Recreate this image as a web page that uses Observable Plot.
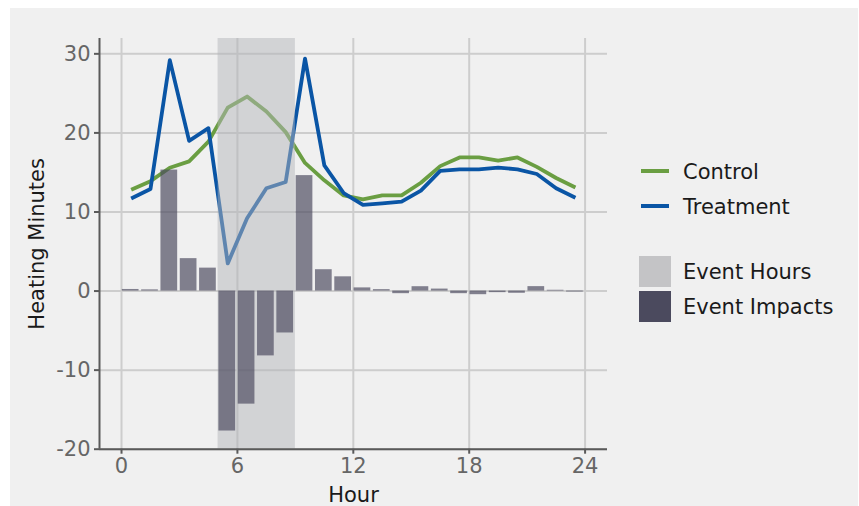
<!DOCTYPE html>
<html>
<head>
<meta charset="utf-8">
<script src="https://cdn.jsdelivr.net/npm/d3@7"></script>
<script src="https://cdn.jsdelivr.net/npm/@observablehq/plot@0.6"></script>
<style>
  html, body { margin: 0; padding: 0; background: #ffffff; }
  body { width: 859px; height: 506px; position: relative; overflow: hidden; font-family: "DejaVu Sans", sans-serif; }
  #panel { position: absolute; left: 10px; top: 8px; width: 848px; height: 498px; background: #f0f0f0; }
  #chart { position: absolute; left: 0; top: 0; }
  #chart svg { background: transparent; }
  g[aria-label="x-axis label"], g[aria-label="y-axis label"] { fill: #1a1a1a; }
  .leg { position: absolute; font-size: 21px; color: #1a1a1a; line-height: 1; white-space: nowrap; }
  .legline { position: absolute; height: 4px; width: 28px; }
  .legbox { position: absolute; width: 32px; height: 31px; }
</style>
</head>
<body>
<div id="panel"></div>
<div id="chart"></div>
<div id="legend"></div>
<script>
// ---- data ----
const hours = [0, 1, 2, 3, 4, 5, 6, 7, 8, 9, 10, 11, 12, 13, 14, 15, 16, 17, 18, 19, 20, 21, 22, 23];
const control = [12.8, 13.9, 15.6, 16.4, 18.9, 23.2, 24.6, 22.7, 20.1, 16.2, 14.0, 12.1, 11.6, 12.1, 12.1, 13.7, 15.8, 16.9, 16.9, 16.5, 16.9, 15.7, 14.3, 13.1];
const treatment = [11.7, 12.9, 29.2, 19.0, 20.6, 3.5, 9.2, 13.0, 13.8, 29.4, 15.9, 12.4, 10.9, 11.1, 11.3, 12.7, 15.2, 15.4, 15.4, 15.6, 15.4, 14.8, 13.0, 11.8];
const impacts = [0.2, 0.15, 15.3, 4.1, 2.9, -17.7, -14.3, -8.2, -5.3, 14.6, 2.7, 1.8, 0.4, 0.18, -0.33, 0.55, 0.25, -0.33, -0.46, -0.2, -0.28, 0.56, 0.1, -0.12];
const eventStart = 5;
const eventEnd = 9;
const xTicks = [0, 6, 12, 18, 24];
const yTicks = [-20, -10, 0, 10, 20, 30];
const seriesNames = ["Control", "Treatment"];
const seriesColors = ["#6a9e42", "#0a55a5"];
const legendBoxes = ["Event Hours", "Event Impacts"];

// ---- derived tables ----
const lineRows = [];
hours.forEach((h, i) => {
  lineRows.push({series: "Control", hour: h + 0.5, value: control[i]});
  lineRows.push({series: "Treatment", hour: h + 0.5, value: treatment[i]});
});
const barRows = hours.map((h, i) => ({start: h, end: h + 1, value: impacts[i]}));
const eventRows = [{start: eventStart, end: eventEnd}];

const xDomain = [-1.14, 25.16];
const yDomain = [-20, 31.94];
const axisColor = "#5a5a5a";
const tickText = "#666666";

const plot = Plot.plot({
  width: 620,
  height: 506,
  marginLeft: 99,
  marginRight: 13,
  marginTop: 38,
  marginBottom: 57.3,
  style: {fontFamily: "DejaVu Sans, sans-serif", fontSize: "21px", background: "transparent"},
  x: {domain: xDomain},
  y: {domain: yDomain},
  color: {domain: seriesNames, range: seriesColors},
  marks: [
    Plot.gridX(xTicks, {stroke: "#cdcdcd", strokeOpacity: 1, strokeWidth: 2}),
    Plot.gridY(yTicks, {stroke: "#cdcdcd", strokeOpacity: 1, strokeWidth: 2}),
    Plot.line(lineRows, {x: "hour", y: "value", z: "series", stroke: "series", strokeWidth: 3.8, strokeLinecap: "butt"}),
    Plot.rect(eventRows, {x1: "start", x2: "end", fill: "#b4b5b9", fillOpacity: 0.5}),
    Plot.rectY(barRows, {x1: "start", x2: "end", y: "value", fill: "#4b4a5e", fillOpacity: 0.68, insetLeft: 0.8, insetRight: 1.8}),
    Plot.ruleY([yDomain[0]], {stroke: axisColor, strokeWidth: 2}),
    Plot.ruleX([xDomain[0]], {stroke: axisColor, strokeWidth: 2}),
    Plot.axisX(xTicks, {tickSize: 5, tickPadding: 4, stroke: axisColor, strokeWidth: 2, fill: tickText,
      tickFormat: d => `${d}`, label: "Hour", labelAnchor: "center", labelArrow: "none", labelOffset: 53}),
    Plot.axisY(yTicks, {tickSize: 5, tickPadding: 4, stroke: axisColor, strokeWidth: 2, fill: tickText,
      tickFormat: d => `${d}`, label: "Heating Minutes", labelAnchor: "center", labelArrow: "none", labelOffset: 70})
  ]
});
document.getElementById("chart").appendChild(plot);

// ---- legend ----
const legend = document.getElementById("legend");
const lineYs = [171, 206];
seriesNames.forEach((name, i) => {
  const ln = document.createElement("div");
  ln.className = "legline";
  ln.style.left = "641px";
  ln.style.top = (lineYs[i] - 2) + "px";
  ln.style.background = seriesColors[i];
  legend.appendChild(ln);
  const t = document.createElement("div");
  t.className = "leg";
  t.style.left = "683px";
  t.style.top = (lineYs[i] - 9.5) + "px";
  t.textContent = name;
  legend.appendChild(t);
});
const boxTops = [255.7, 290.7];
const boxColors = ["#c4c4c6", "#4b4a5e"];
legendBoxes.forEach((name, i) => {
  const b = document.createElement("div");
  b.className = "legbox";
  b.style.left = "639px";
  b.style.top = boxTops[i] + "px";
  b.style.background = boxColors[i];
  legend.appendChild(b);
  const t = document.createElement("div");
  t.className = "leg";
  t.style.left = "683px";
  t.style.top = (boxTops[i] + 15.5 - 9) + "px";
  t.textContent = name;
  legend.appendChild(t);
});
</script>
</body>
</html>
